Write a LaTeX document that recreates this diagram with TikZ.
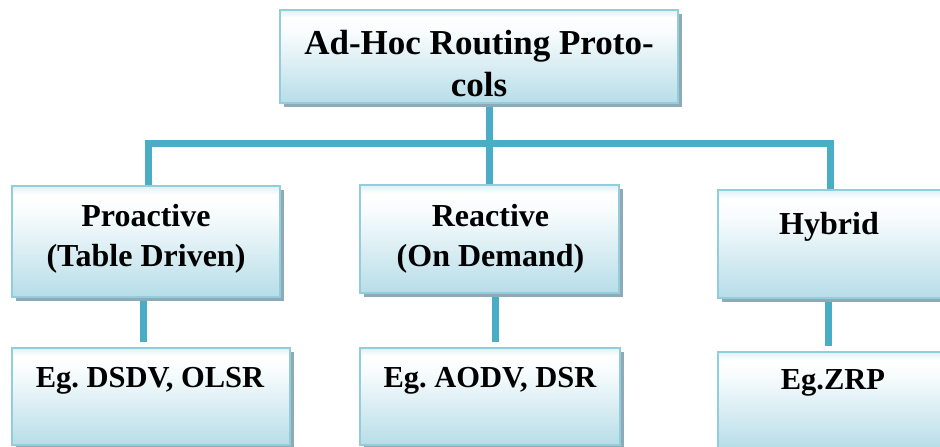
\documentclass[tikz,border=0pt]{standalone}
\usepackage{fontspec}
\setmainfont{Liberation Serif}
\usetikzlibrary{shadows,backgrounds}
\frenchspacing
\definecolor{conncol}{RGB}{75,172,198}
\definecolor{bordcol}{RGB}{146,205,220}
\definecolor{shadcol}{RGB}{143,170,183}
\definecolor{shbot}{RGB}{183,221,232}
\definecolor{shmid}{RGB}{248,252,253}
\definecolor{shtop}{RGB}{222,240,246}
\pgfdeclareverticalshading{boxshade}{100bp}{color(0bp)=(shbot); color(25bp)=(shbot); color(63bp)=(shmid); color(71bp)=(white); color(75bp)=(shtop); color(100bp)=(shtop)}
\tikzset{
  box/.style={rectangle, draw=bordcol, line width=1.5pt, shading=boxshade, inner sep=0pt,
    drop shadow={shadow xshift=4pt, shadow yshift=-4pt, fill=shadcol, opacity=1}},
  lbl/.style={anchor=north, align=center, inner sep=0pt, font=\bfseries\fontsize{32}{40}\selectfont},
  eglbl/.style={lbl, font=\bfseries\fontsize{30.5}{40}\selectfont},
  toplbl/.style={lbl, font=\bfseries\fontsize{35}{42}\selectfont},
  conn/.style={draw=conncol, line width=7pt},
}
\begin{document}
\begin{tikzpicture}[x=1pt,y=-1pt]
\useasboundingbox (0,0) rectangle (940,447);
% boxes
\node[box, minimum width=398pt, minimum height=93pt] (top) at (479,56.5) {};
\node[box, minimum width=268pt, minimum height=111pt] (pro) at (146,241.5) {};
\node[box, minimum width=259pt, minimum height=108pt] (rea) at (489.5,239) {};
\node[box, minimum width=232pt, minimum height=108pt] (hyb) at (834,244) {};
\node[box, minimum width=278pt, minimum height=97pt] (eg1) at (151,396.5) {};
\node[box, minimum width=260pt, minimum height=97pt] (eg2) at (490,396.5) {};
\node[box, minimum width=232pt, minimum height=97pt] (eg3) at (834,400.5) {};
% labels
\node[toplbl] (toptxt) at (479,30) {Ad-Hoc Routing Proto-\\cols};
\node[lbl] (protxt) at (146,204) {Proactive\\(Table Driven)};
\node[lbl] (reatxt) at (490.5,204) {Reactive\\(On Demand)};
\node[lbl] (hybtxt) at (829,212) {Hybrid};
\node[eglbl] (eg1txt) at (150,367) {Eg. DSDV, OLSR};
\node[eglbl] (eg2txt) at (490,367) {Eg. AODV, DSR};
\node[eglbl] (eg3txt) at (833,369) {Eg.ZRP};
% connectors
\coordinate (bus) at (489.5,143);
\begin{pgfonlayer}{background}
\draw[conn] (top.south -| rea.north) -- (rea.north);
\draw[conn] ([xshift=2pt]pro.north) |- (bus) -| ([xshift=-4pt]hyb.north);
\draw[conn, shorten >=5pt] ([xshift=-3pt]pro.south) -- ([xshift=-3pt]pro.south |- eg1.north);
\draw[conn, shorten >=5pt] ([xshift=5.5pt]rea.south) -- ([xshift=5.5pt]rea.south |- eg2.north);
\draw[conn, shorten >=5pt] ([xshift=-6pt]hyb.south) -- ([xshift=-6pt]hyb.south |- eg3.north);
\end{pgfonlayer}
\end{tikzpicture}
\end{document}
